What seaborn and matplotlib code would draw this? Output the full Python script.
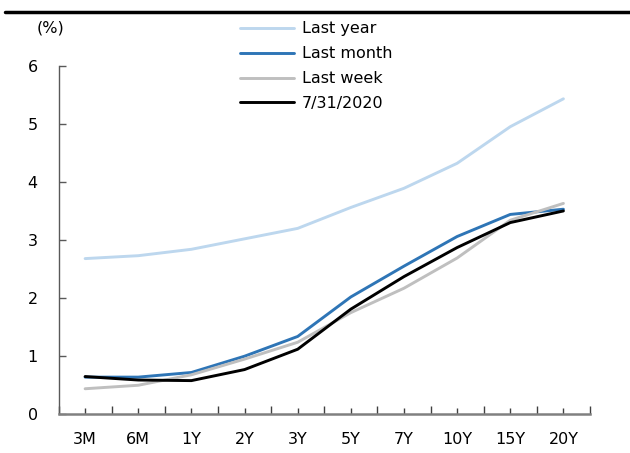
import matplotlib
matplotlib.use("Agg")
import matplotlib.pyplot as plt
import seaborn as sns
import pandas as pd
from matplotlib.lines import Line2D
from matplotlib.ticker import FixedLocator

# Yield curve tenors and rates (%)
tenors = ["3M", "6M", "1Y", "2Y", "3Y", "5Y", "7Y", "10Y", "15Y", "20Y"]
last_year = [2.68, 2.73, 2.84, 3.02, 3.20, 3.56, 3.89, 4.32, 4.95, 5.43]
last_month = [0.64, 0.64, 0.72, 1.00, 1.34, 2.02, 2.55, 3.06, 3.44, 3.53]
last_week = [0.44, 0.50, 0.68, 0.95, 1.24, 1.75, 2.17, 2.69, 3.34, 3.63]
current = [0.65, 0.59, 0.58, 0.77, 1.12, 1.81, 2.37, 2.87, 3.30, 3.50]

series_names = ["Last year", "Last month", "Last week", "7/31/2020"]
series_values = [last_year, last_month, last_week, current]
colors = ["#BDD7EE", "#2E75B6", "#BFBFBF", "#000000"]

df = pd.DataFrame({
    "pos": [i for _ in series_names for i in range(len(tenors))],
    "rate": [v for vals in series_values for v in vals],
    "series": [name for name in series_names for _ in tenors],
})

sns.set_theme(style="white")
plt.rcParams["font.family"] = ["DejaVu Sans"]
plt.rcParams["text.color"] = "black"

fig = plt.figure(figsize=(6.30, 4.53), dpi=100)
ax = fig.add_axes([0.0929, 0.0854, 0.8436, 0.7696])

sns.lineplot(data=df, x="pos", y="rate", hue="series", hue_order=series_names,
             palette=dict(zip(series_names, colors)), linewidth=2.1,
             sort=False, legend=False, ax=ax)

ax.set_xlim(-0.5, len(tenors) - 0.5)
ax.set_ylim(0, 6)
ax.set_xlabel("")
ax.set_ylabel("")
ax.set_yticks(range(0, 7))
ax.set_xticks(range(len(tenors)))
ax.set_xticklabels(tenors)
ax.xaxis.set_minor_locator(FixedLocator([i + 0.5 for i in range(-1, len(tenors))]))

for s in ["top", "right"]:
    ax.spines[s].set_visible(False)
ax.spines["left"].set_color("#595959")
ax.spines["left"].set_linewidth(1.0)
ax.spines["bottom"].set_color("#808080")
ax.spines["bottom"].set_linewidth(1.8)

ax.tick_params(axis="y", which="major", direction="in", length=5, width=1,
               color="#595959", pad=15, labelsize=11.5, labelcolor="black", left=True)
ax.tick_params(axis="x", which="major", direction="in", length=4, width=1,
               color="#404040", pad=13, labelsize=11.5, labelcolor="black", bottom=True)
ax.tick_params(axis="x", which="minor", direction="in", length=5.5, width=1,
               color="#404040", bottom=True)
ax.grid(False)

fig.text(0.08, 0.938, "(%)", fontsize=11.5, ha="center", va="center", color="black")

handles = [Line2D([], [], color=c, lw=2.1) for c in colors]
leg = fig.legend(handles, series_names, loc="upper left", bbox_to_anchor=(0.381, 0.953),
                 frameon=False, fontsize=11.5, handlelength=3.4, handletextpad=0.45,
                 labelspacing=0.62, borderpad=0, borderaxespad=0)
for t in leg.get_texts():
    t.set_color("black")

# heavy rule along the top edge
fig.add_artist(Line2D([0.008, 1.0], [0.973, 0.973], color="black", lw=2.5,
                      transform=fig.transFigure))

fig.savefig("out.png", dpi=100)
